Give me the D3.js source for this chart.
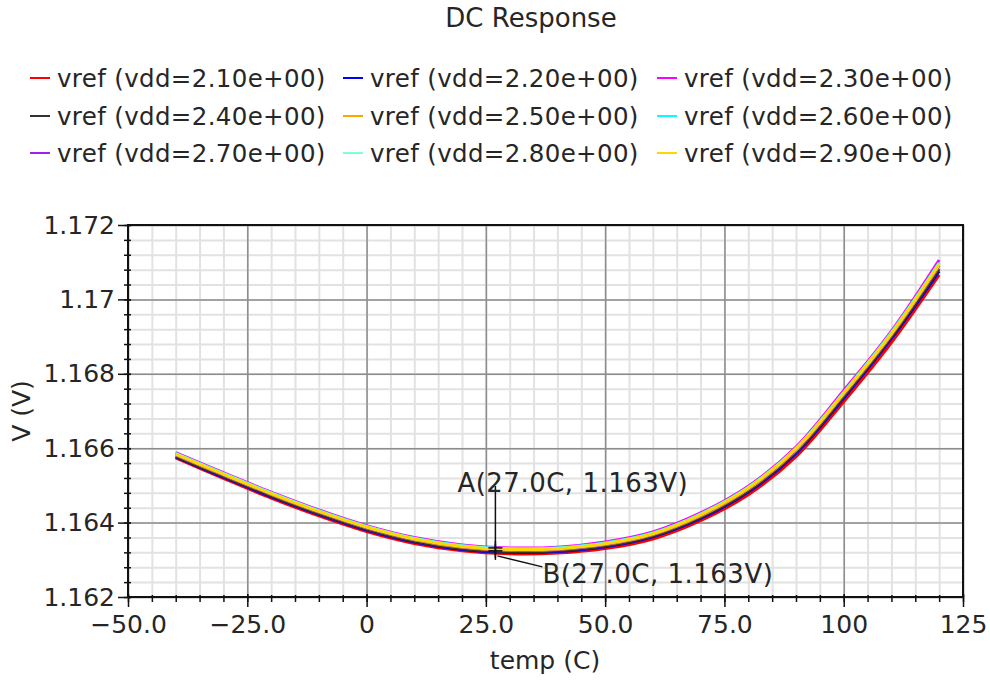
<!DOCTYPE html>
<html>
<head>
<meta charset="utf-8">
<script src="https://cdn.jsdelivr.net/npm/d3@7"></script>
<style>
  body { margin: 0; background: #fff; }
  text { font-family: "DejaVu Sans", Verdana, sans-serif; fill: #262626; }
</style>
</head>
<body>
<svg id="chart" width="990" height="681"></svg>
<script>
/*************************************** data ***************************/
let temps = [-40, -30, -20, -10, 0, 10, 20, 30, 40, 50, 60, 70, 80, 90, 100, 110, 120]
let vddValues = [2.1, 2.2, 2.3, 2.4, 2.5, 2.6, 2.7, 2.8, 2.9]
let seriesColors = ["#ff0000", "#0000ff", "#ff00ff", "#333333", "#ffa500", "#00ffff", "#a020f0", "#7fffd4", "#ffd700"]

let vref21 = [1.16574, 1.16519, 1.16466, 1.16418, 1.16376, 1.16344, 1.16324, 1.16316, 1.16318, 1.16330, 1.16356, 1.16405, 1.16475, 1.16577, 1.16725, 1.16884, 1.17066]
let vref22 = [1.16577, 1.16522, 1.16470, 1.16422, 1.16380, 1.16348, 1.16328, 1.16320, 1.16322, 1.16335, 1.16362, 1.16411, 1.16482, 1.16586, 1.16735, 1.16895, 1.17076]
let vref23 = [1.16588, 1.16534, 1.16482, 1.16434, 1.16392, 1.16360, 1.16340, 1.16332, 1.16334, 1.16348, 1.16375, 1.16426, 1.16498, 1.16603, 1.16755, 1.16915, 1.17106]
let vref24 = [1.16578, 1.16524, 1.16472, 1.16424, 1.16382, 1.16350, 1.16330, 1.16322, 1.16324, 1.16337, 1.16364, 1.16414, 1.16485, 1.16590, 1.16739, 1.16899, 1.17082]
let vref25 = [1.16582, 1.16528, 1.16476, 1.16428, 1.16386, 1.16354, 1.16334, 1.16326, 1.16328, 1.16341, 1.16368, 1.16418, 1.16490, 1.16595, 1.16745, 1.16905, 1.17090]
let vref26 = [1.16586, 1.16532, 1.16480, 1.16432, 1.16390, 1.16358, 1.16338, 1.16330, 1.16332, 1.16345, 1.16372, 1.16423, 1.16495, 1.16600, 1.16750, 1.16911, 1.17098]
let vref27 = [1.16583, 1.16529, 1.16477, 1.16429, 1.16387, 1.16355, 1.16335, 1.16327, 1.16329, 1.16342, 1.16369, 1.16420, 1.16492, 1.16597, 1.16747, 1.16907, 1.17092]
let vref28 = [1.16585, 1.16531, 1.16479, 1.16431, 1.16389, 1.16357, 1.16337, 1.16329, 1.16331, 1.16344, 1.16371, 1.16422, 1.16494, 1.16599, 1.16749, 1.16909, 1.17096]
let vref29 = [1.16584, 1.16530, 1.16478, 1.16430, 1.16388, 1.16356, 1.16336, 1.16328, 1.16330, 1.16343, 1.16370, 1.16421, 1.16493, 1.16598, 1.16748, 1.16908, 1.17094]
let allSeries = [vref21, vref22, vref23, vref24, vref25, vref26, vref27, vref28, vref29]

let xTickValues = [-50, -25, 0, 25, 50, 75, 100, 125]
let xTickLabels = ["\u221250.0", "\u221225.0", "0", "25.0", "50.0", "75.0", "100", "125"]
let yTickValues = [1.162, 1.164, 1.166, 1.168, 1.170, 1.172]
let yTickLabels = ["1.162", "1.164", "1.166", "1.168", "1.17", "1.172"]

// markers A and B
let markerT = 27.0
let markerVA = 1.16332
let markerVB = 1.16324

/*************************************** drawing ***************************/
const W = 990, H = 681
const margin = { top: 225, right: 27, bottom: 84, left: 128 }
const svg = d3.select("#chart")

let xScale = d3.scaleLinear().domain([-50, 125]).range([margin.left, W - margin.right])
let yScale = d3.scaleLinear().domain([1.162, 1.172]).range([H - margin.bottom, margin.top])
const plotW = W - margin.left - margin.right
const plotH = H - margin.top - margin.bottom

// title
svg.append("text")
    .attr("x", 531).attr("y", 27)
    .attr("text-anchor", "middle")
    .attr("font-size", "26px")
    .text("DC Response")

// legend, 3 columns
let legendColX = [30, 343, 657]
let legendRowY = [78, 116, 153]
vddValues.forEach((v, i) => {
    let col = i % 3, row = Math.floor(i / 3)
    let g = svg.append("g").attr("transform", "translate(" + legendColX[col] + "," + legendRowY[row] + ")")
    g.append("line").attr("x1", 0).attr("x2", 20).attr("y1", 0).attr("y2", 0)
        .attr("stroke", seriesColors[i]).attr("stroke-width", 2)
    g.append("text").attr("x", 27).attr("y", 0).attr("dy", "0.36em")
        .attr("font-size", "24.5px").attr("letter-spacing", "0.35px")
        .text("vref (vdd=" + v.toFixed(2) + "e+00)")
})

// minor grid
svg.append("g")
    .attr("transform", "translate(0," + (H - margin.bottom) + ")")
    .call(d3.axisBottom(xScale).tickValues(d3.range(-50, 125.01, 5)).tickSize(-plotH).tickFormat(""))
    .call(g => g.select(".domain").remove())
    .call(g => g.selectAll("line").attr("stroke", "#e2e2e2").attr("stroke-width", 2))
svg.append("g")
    .attr("transform", "translate(" + margin.left + ",0)")
    .call(d3.axisLeft(yScale).tickValues(d3.range(0, 26).map(k => 1.162 + k * 0.0004)).tickSize(-plotW).tickFormat(""))
    .call(g => g.select(".domain").remove())
    .call(g => g.selectAll("line").attr("stroke", "#e2e2e2").attr("stroke-width", 2))

// major grid
svg.append("g")
    .attr("transform", "translate(0," + (H - margin.bottom) + ")")
    .call(d3.axisBottom(xScale).tickValues(xTickValues).tickSize(-plotH).tickFormat(""))
    .call(g => g.select(".domain").remove())
    .call(g => g.selectAll("line").attr("stroke", "#8c8c8c").attr("stroke-width", 1.5))
svg.append("g")
    .attr("transform", "translate(" + margin.left + ",0)")
    .call(d3.axisLeft(yScale).tickValues(yTickValues).tickSize(-plotW).tickFormat(""))
    .call(g => g.select(".domain").remove())
    .call(g => g.selectAll("line").attr("stroke", "#8c8c8c").attr("stroke-width", 1.5))

// frame
svg.append("rect")
    .attr("x", margin.left).attr("y", margin.top)
    .attr("width", plotW).attr("height", plotH)
    .attr("fill", "none").attr("stroke", "#111").attr("stroke-width", 2)

// curves
let lineGenerator = d3.line()
    .x((d, i) => xScale(temps[i]))
    .y(d => yScale(d))
    .curve(d3.curveCatmullRom.alpha(0.5))

svg.selectAll(".vrefLine")
    .data(allSeries)
    .enter()
    .append("path")
    .attr("class", "vrefLine")
    .attr("d", d => lineGenerator(d))
    .attr("fill", "none")
    .attr("stroke", (d, i) => seriesColors[i])
    .attr("stroke-width", 3)

// x axis ticks + labels
svg.append("g")
    .attr("transform", "translate(0," + (H - margin.bottom) + ")")
    .call(d3.axisBottom(xScale).tickValues(d3.range(-50, 125.01, 5)).tickSize(5).tickFormat(""))
    .call(g => g.select(".domain").remove())
    .call(g => g.selectAll("line").attr("stroke", "#111").attr("stroke-width", 1.5).attr("y1", -2))
svg.append("g")
    .attr("transform", "translate(0," + (H - margin.bottom) + ")")
    .call(d3.axisBottom(xScale).tickValues(xTickValues).tickSize(10).tickPadding(8).tickFormat((d, i) => xTickLabels[i]))
    .call(g => g.select(".domain").remove())
    .call(g => g.selectAll("line").attr("stroke", "#111").attr("stroke-width", 1.5).attr("y1", -3))
    .call(g => g.selectAll("text").attr("font-size", "25px").attr("font-family", "DejaVu Sans").attr("fill", "#262626"))

// y axis ticks + labels
svg.append("g")
    .attr("transform", "translate(" + margin.left + ",0)")
    .call(d3.axisLeft(yScale).tickValues(d3.range(0, 26).map(k => 1.162 + k * 0.0004)).tickSize(4).tickFormat(""))
    .call(g => g.select(".domain").remove())
    .call(g => g.selectAll("line").attr("stroke", "#111").attr("stroke-width", 1.5).attr("x1", 3))
svg.append("g")
    .attr("transform", "translate(" + margin.left + ",0)")
    .call(d3.axisLeft(yScale).tickValues(yTickValues).tickSize(10).tickPadding(3).tickFormat((d, i) => yTickLabels[i]))
    .call(g => g.select(".domain").remove())
    .call(g => g.selectAll("line").attr("stroke", "#111").attr("stroke-width", 1.5).attr("x1", 3))
    .call(g => g.selectAll("text").attr("font-size", "25px").attr("font-family", "DejaVu Sans").attr("fill", "#262626"))

// axis titles
svg.append("text")
    .attr("x", 545).attr("y", 669)
    .attr("text-anchor", "middle")
    .attr("font-size", "25px")
    .text("temp (C)")
svg.append("text")
    .attr("transform", "translate(30,411) rotate(-90)")
    .attr("text-anchor", "middle")
    .attr("font-size", "25px")
    .text("V (V)")

// markers
let px = xScale(markerT)
let pyA = yScale(markerVA), pyB = yScale(markerVB)
function drawCross(x, y) {
    svg.append("line").attr("x1", x - 7).attr("x2", x + 7).attr("y1", y).attr("y2", y)
        .attr("stroke", "#111").attr("stroke-width", 1.5)
    svg.append("line").attr("x1", x).attr("x2", x).attr("y1", y - 7).attr("y2", y + 7)
        .attr("stroke", "#111").attr("stroke-width", 1.5)
}
drawCross(px, pyA)
drawCross(px, pyB)
// A leader
svg.append("line").attr("x1", px).attr("x2", px).attr("y1", pyA - 62).attr("y2", pyA + 12)
    .attr("stroke", "#111").attr("stroke-width", 1.5)
svg.append("text")
    .attr("x", px - 38).attr("y", pyA - 56)
    .attr("font-size", "26px").attr("letter-spacing", "0.5px")
    .text("A(" + markerT.toFixed(1) + "C, " + markerVA.toFixed(3) + "V)")
// B leader
svg.append("line").attr("x1", px + 2).attr("x2", px + 47).attr("y1", pyB + 5).attr("y2", pyB + 16)
    .attr("stroke", "#111").attr("stroke-width", 1.5)
svg.append("text")
    .attr("x", px + 47).attr("y", pyB + 32)
    .attr("font-size", "26px").attr("letter-spacing", "0.5px")
    .text("B(" + markerT.toFixed(1) + "C, " + markerVB.toFixed(3) + "V)")
</script>
</body>
</html>
